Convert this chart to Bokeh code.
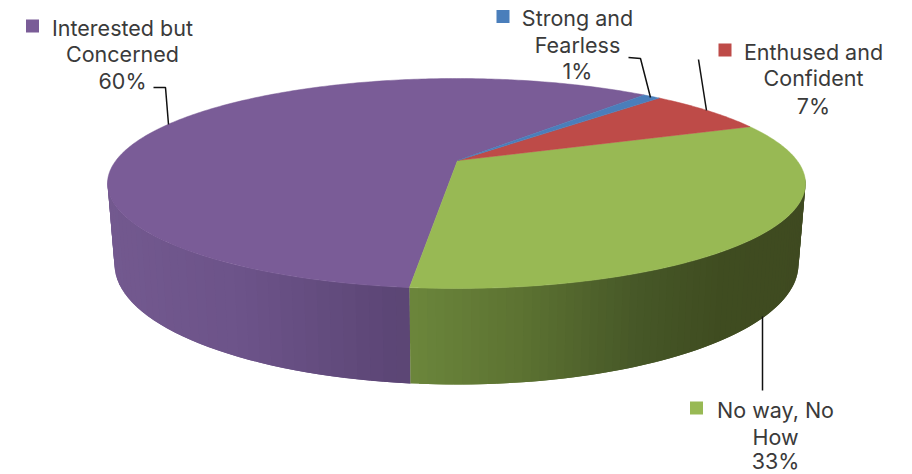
import math
from bokeh.plotting import figure
from bokeh.models import ColumnDataSource, Range1d
from bokeh.core.properties import value
from bokeh.embed import file_html
from bokeh.resources import INLINE

# --- data ---
categories = ["Interested but Concerned", "Strong and Fearless", "Enthused and Confident", "No way, No How"]
percents = [60, 1, 7, 33]
colors = ["#7a5c97", "#4a7ebb", "#be4b48", "#98b954"]
label_lines = [["Interested but", "Concerned", "60%"],
               ["Strong and", "Fearless", "1%"],
               ["Enthused and", "Confident", "7%"],
               ["No way, No", "How", "33%"]]

# --- layout (page pixels) ---
FONT = "Inter"
FONT_SIZE = "21.5px"
TEXT_COLOR = "#3a3a3a"
label_cx = [122, 577, 813, 775]
label_y = [[27, 53, 80], [17, 44, 70], [51, 77, 105], [409, 436, 460]]
key_xy = [(32, 25.5), (502.5, 16), (724.5, 49.5), (696, 407.5)]
leaders = [([153, 165, 168], [87, 87, 124]),
           ([628, 640, 650], [57, 58, 97]),
           ([698, 706], [59, 110]),
           ([762, 762], [316, 390])]

# Pie geometry: projected disc
CX, TOP_CY, TOP_A, TOP_B = 456.0, 183.0, 349.0, 105.0
BOT_CY, BOT_A, BOT_B = 264.0, 342.0, 120.0
APEX_Y = 160.0
K = 0.219
START_DEG = -96.2  # boundary between No way and Interested, on the near side


def rim_param(theta):
    """disc angle (radians, counter-clockwise seen from above) -> ellipse parameter"""
    u, v = math.cos(theta), math.sin(theta)
    d = 1 + K * v
    x = (TOP_A * math.sqrt(1 - K * K)) * u / d
    y = (TOP_B * (1 - K * K)) * v / d + (APEX_Y - TOP_CY) * -1
    return math.atan2(y / TOP_B, x / TOP_A)


def top_pt(t):
    return CX + TOP_A * math.cos(t), TOP_CY - TOP_B * math.sin(t)


def bot_pt(t):
    return CX + BOT_A * math.cos(t), BOT_CY - BOT_B * math.sin(t)


def lerp_hex(stops, x):
    if x <= stops[0][0]:
        return stops[0][1]
    for (x0, c0), (x1, c1) in zip(stops, stops[1:]):
        if x <= x1:
            f = (x - x0) / (x1 - x0)
            a = [int(c0[i:i + 2], 16) for i in (1, 3, 5)]
            b = [int(c1[i:i + 2], 16) for i in (1, 3, 5)]
            return "#%02x%02x%02x" % tuple(round(p + (q - p) * f) for p, q in zip(a, b))
    return stops[-1][1]


wall_stops = {
    0: [(113, "#73598f"), (250, "#6c5389"), (410, "#5b4574")],
    3: [(410, "#6c873c"), (520, "#5d7332"), (640, "#465727"), (720, "#3f4c20"), (805, "#3f4a20")],
}

total = sum(percents)
# walk clockwise (as drawn) from the near boundary: No way -> Enthused -> Strong -> Interested
order = [3, 2, 1, 0]
bounds = {}
a = math.radians(START_DEG)
for i in order:
    span = 2 * math.pi * percents[i] / total
    bounds[i] = (a, a + span)
    a += span

p = figure(width=904, height=474, output_backend="svg", toolbar_location=None,
           x_range=Range1d(0, 904), y_range=Range1d(474, 0), min_border=0)
p.axis.visible = False
p.grid.visible = False
p.outline_line_color = None
p.background_fill_color = "white"
p.border_fill_color = "white"

# walls: drawn as overlapping strips so no seams show
for i in (0, 3):
    xs, ys, cs = [], [], []
    t0, t1 = rim_param(bounds[i][0]), rim_param(bounds[i][1])
    while t1 < t0:
        t1 += 2 * math.pi
    n = 90
    step = (t1 - t0) / n
    for j in range(n):
        ta = t0 + step * j
        tb = min(t0 + step * (j + 2), t1)
        if math.sin(ta) > 0.02 and math.sin(tb) > 0.02:
            continue
        p1, p2, p3, p4 = top_pt(ta), top_pt(tb), bot_pt(tb), bot_pt(ta)
        xs.append([p1[0], p2[0], p3[0], p4[0]])
        ys.append([p1[1], p2[1], p3[1], p4[1]])
        cs.append(lerp_hex(wall_stops[i], (p3[0] + p4[0]) / 2))
    p.patches("xs", "ys", source=ColumnDataSource(dict(xs=xs, ys=ys, c=cs)),
              fill_color="c", line_color=None)

# top face wedges
apex = (CX + 1, APEX_Y)
for i in (0, 3, 2, 1):
    t0, t1 = rim_param(bounds[i][0]), rim_param(bounds[i][1])
    while t1 < t0:
        t1 += 2 * math.pi
    n = max(8, int((t1 - t0) * 90))
    pts = [top_pt(t0 + (t1 - t0) * j / n) for j in range(n + 1)]
    p.patch([apex[0]] + [q[0] for q in pts], [apex[1]] + [q[1] for q in pts],
            fill_color=colors[i], line_color=colors[i], line_width=0.5)

# leaders
for lx, ly in leaders:
    p.line(lx, ly, line_color="#111111", line_width=1.5)

# legend keys + labels
for i, lines in enumerate(label_lines):
    kx, ky = key_xy[i]
    p.rect([kx], [ky], width=13, height=13, fill_color=colors[i], line_color=None)
    p.text([label_cx[i]] * len(lines), label_y[i], text=lines,
           text_font=value(FONT), text_font_size=value(FONT_SIZE), text_color=TEXT_COLOR,
           text_align="center", text_baseline="middle")

open("out.html", "w").write(file_html(p, INLINE))
